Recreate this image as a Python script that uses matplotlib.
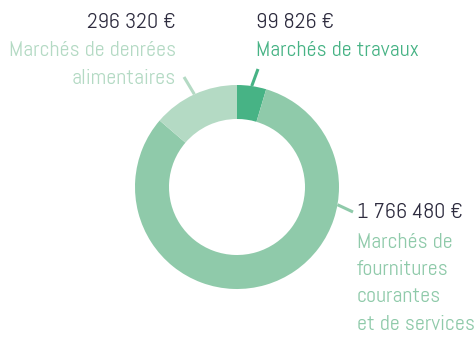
import numpy as np
import matplotlib.pyplot as plt

# Montants par catégorie de marchés (en euros)
categories = ["Marchés de travaux",
              "Marchés de\nfournitures\ncourantes\net de services",
              "Marchés de denrées\nalimentaires"]
montants = [99826, 1766480, 296320]
montant_labels = ["99 826 €", "1 766 480 €", "296 320 €"]
colors = ["#47b385", "#8fcaaa", "#b4dac4"]

plt.rcParams['font.family'] = ['Abel', 'DejaVu Sans']

W, H = 477, 337
fig = plt.figure(figsize=(W / 100, H / 100), dpi=100)
ax = fig.add_axes([0, 0, 1, 1])

cx, cy, R = 237, 187, 102
ax.pie(montants, colors=colors, startangle=90, counterclock=False,
       center=(cx, H - cy), radius=R, wedgeprops=dict(width=34, linewidth=0),
       frame=True)
ax.set_xlim(0, W)
ax.set_ylim(0, H)
ax.axis('off')

dark = "#2e2c3f"
fs = 15.8
step = 27.5


def txt(x, y, s, col, ha):
    # y given from the top edge
    ax.text(x, H - y, s, color=col, fontsize=fs, ha=ha, va='center')


# leader lines: angle on the ring (deg), end point of the line
leaders = [(81.7, (258, 69)), (-10, (353, 212)), (114.7, (184, 77))]
for (ang, end), col in zip(leaders, colors):
    a = np.radians(ang)
    x0, y0 = cx + R * np.cos(a), cy - R * np.sin(a)
    ax.plot([x0, end[0]], [H - y0, H - end[1]], color=col, lw=2.2,
            solid_capstyle='butt')

# travaux
txt(256, 23, montant_labels[0], dark, 'left')
txt(256, 51, categories[0], colors[0], 'left')

# fournitures
txt(357, 213, montant_labels[1], dark, 'left')
for i, line in enumerate(categories[1].split("\n")):
    txt(357, 242 + i * step, line, colors[1], 'left')

# denrées
txt(176, 23, montant_labels[2], dark, 'right')
for i, line in enumerate(categories[2].split("\n")):
    txt(176, 51 + i * step, line, colors[2], 'right')

fig.savefig("out.png", dpi=100)
